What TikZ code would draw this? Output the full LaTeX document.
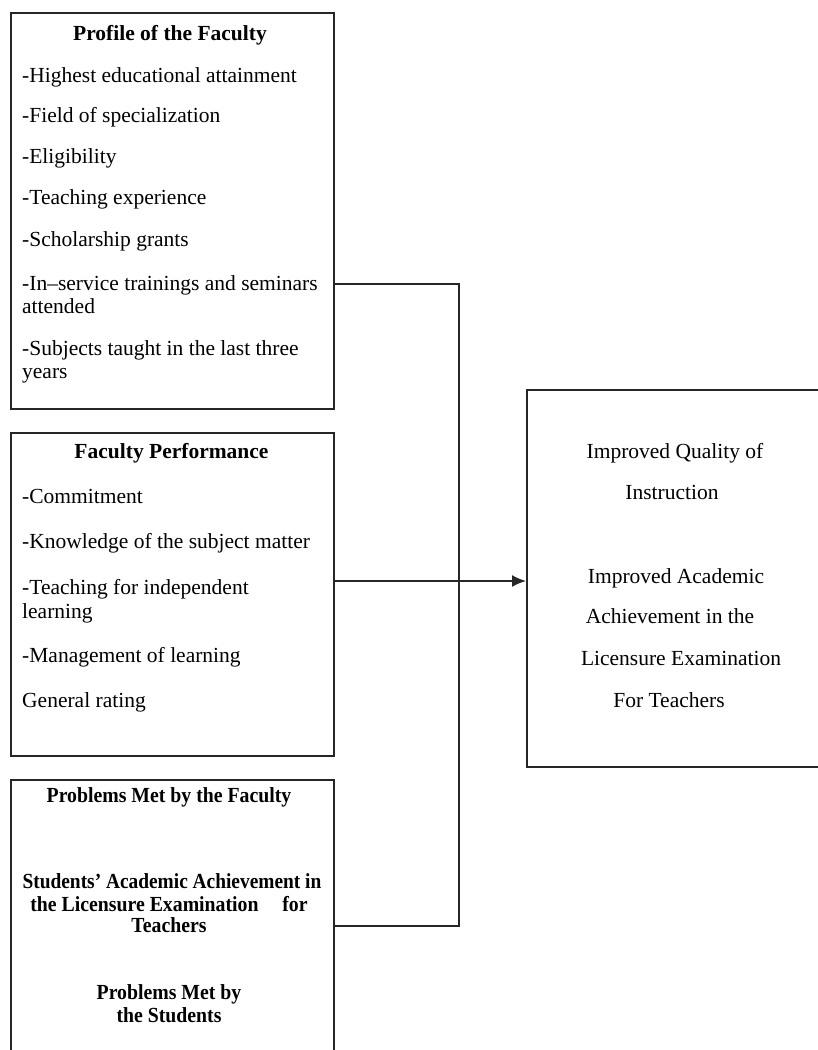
\documentclass[tikz,border=0pt]{standalone}
\usepackage{fontspec}
\setmainfont{Liberation Serif}
\usetikzlibrary{arrows.meta}
\tikzset{
  frame/.style={draw=black!85, line width=1.7pt, rectangle, anchor=north west, inner sep=0pt},
  item/.style={anchor=base west, inner sep=0pt, font=\fontsize{21.5}{23}\selectfont},
  citem/.style={anchor=base, inner sep=0pt, font=\fontsize{21.5}{23}\selectfont},
  btitle/.style={anchor=base, inner sep=0pt, font=\fontsize{21.5}{23}\selectfont\bfseries},
  ctitle/.style={btitle, xscale=0.92},
  link/.style={draw=black!85, line width=1.7pt},
}
\begin{document}
\begin{tikzpicture}[x=1pt,y=-1pt]
\useasboundingbox (0,0) rectangle (818,1050);
\clip (0,0) rectangle (818,1050);
\fill[white] (0,0) rectangle (818,1050);
% boxes
\node[frame, minimum width=323pt, minimum height=396pt] (b1) at (10,12) {};
\node[frame, minimum width=323pt, minimum height=323pt] (b2) at (10,432) {};
\node[frame, minimum width=323pt, minimum height=300pt] (b3) at (10,779) {};
\node[frame, minimum width=320pt, minimum height=377pt] (r) at (526,389) {};
% box 1
\node[btitle] (t1) at (170,40) {Profile of the Faculty};
\node[item] (i11) at (22,82) {-Highest educational attainment};
\node[item] (i12) at (22,122) {-Field of specialization};
\node[item] (i13) at (22,163) {-Eligibility};
\node[item] (i14) at (22,204) {-Teaching experience};
\node[item] (i15) at (22,246) {-Scholarship grants};
\node[item] (i16) at (22,290) {-In--service trainings and seminars};
\node[item] (i16b) at (22,313) {attended};
\node[item] (i17) at (22,355) {-Subjects taught in the last three};
\node[item] (i17b) at (22,378) {years};
% box 2
\node[btitle] (t2) at (171.5,458) {Faculty Performance};
\node[item] (i21) at (22,503) {-Commitment};
\node[item] (i22) at (22,548) {-Knowledge of the subject matter};
\node[item] (i23) at (22,594) {-Teaching for independent};
\node[item] (i23b) at (22,618) {learning};
\node[item] (i24) at (22,662) {-Management of learning};
\node[item] (i25) at (22,707) {General rating};
% box 3
\node[ctitle] (t3) at (169,802) {Problems Met by the Faculty};
\node[ctitle, xscale=0.98] (i31) at (172,888) {Students' Academic Achievement in};
\node[ctitle] (i31b) at (169,911) {the Licensure Examination\hspace{1.2em}for};
\node[ctitle] (i31c) at (169,932) {Teachers};
\node[ctitle] (i32) at (169,999) {Problems Met by};
\node[ctitle] (i32b) at (169,1022) {the Students};
% right box
\node[citem] (o1) at (675,458) {Improved Quality of};
\node[citem] (o1b) at (672,499) {Instruction};
\node[citem] (o2) at (676,583) {Improved Academic};
\node[citem] (o2b) at (670,623) {Achievement in the};
\node[citem] (o2c) at (681,665) {Licensure Examination};
\node[citem] (o2d) at (669,707) {For Teachers};
% connectors
\coordinate (ja) at (459,284);
\coordinate (jb) at (459,926);
\coordinate (jc) at (459,581);
\draw[link] (ja -| b1.east) -- (ja) -- (jb) -- (jb -| b3.east);
\draw[link, -{Latex[length=14pt,width=12pt]}] (jc -| b2.east) -- (jc -| r.west);
\end{tikzpicture}
\end{document}
